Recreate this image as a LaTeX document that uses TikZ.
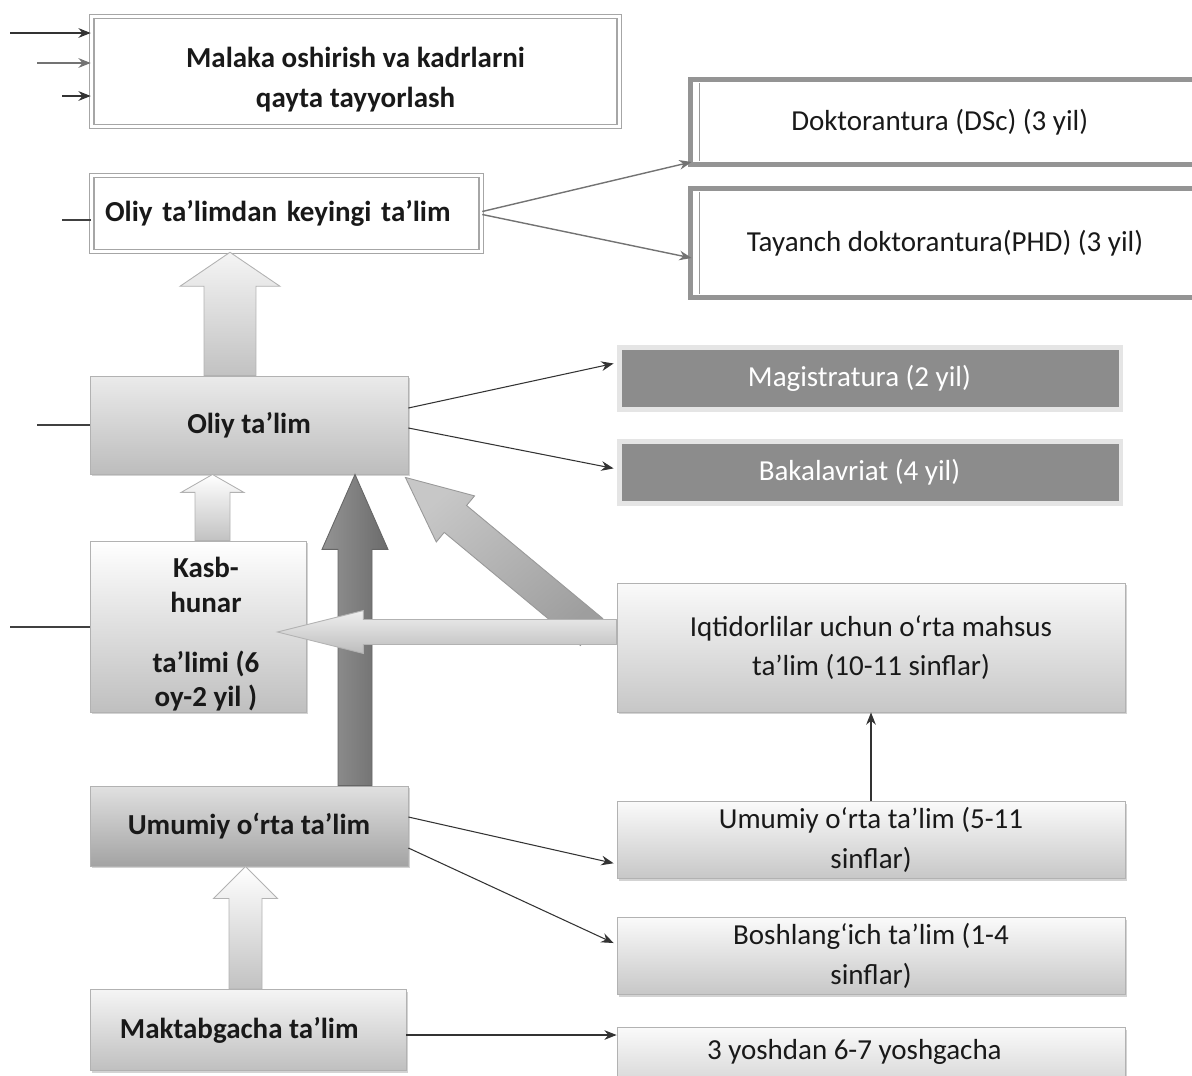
\documentclass[tikz,border=0pt]{standalone}
\usepackage{fontspec}
\setmainfont{Carlito}
\usetikzlibrary{calc,positioning,shadows,arrows.meta}
\newcommand{\topgap}[1]{\rule{0pt}{#1}}
\tikzset{
  blockarrow/.style args={(#1) to (#2) by #3/#4/#5}{
    insert path={
      let \p1=($(#2)!#5!(#1)$) in
      ($(#1)!#3!90:(#2)$) -- ($(\p1)!#3!-90:(#1)$) -- ($(\p1)!#4!-90:(#1)$)
      -- (#2) -- ($(\p1)!#4!90:(#1)$) -- ($(\p1)!#3!90:(#1)$)
      -- ($(#1)!#3!-90:(#2)$) -- cycle
    }
  },
  >={Stealth[length=7pt,width=5.5pt]},
  every node/.style={font=\fontsize{16.5}{22.7}\selectfont,text=black!90},
  bold/.style={font=\bfseries\fontsize{16.5}{22.7}\selectfont},
  link/.style={->,draw=black!80,line width=0.6pt},
  glink/.style={->,draw=black!55,line width=0.8pt},
  stub/.style={draw=black!75,line width=1pt},
  dblbox/.style args={#1,#2}{
  draw=black!35,
  double=white,
  double distance=1.6pt,
  line width=0.9pt,
  minimum width=#1 cm,
  minimum height=#2 cm,
  },
  thickbox/.style args={#1,#2}{
  draw=black!42,
  line width=2.8pt,
  fill=white,
  minimum width=#1 cm,
  minimum height=#2 cm,
  },
  darkbox/.style args={#1,#2}{
  draw=black!10,
  line width=2.8pt,
  fill=black!45,
  text=white,
  minimum width=#1 cm,
  minimum height=#2 cm,
  },
  gbox/.style args={#1,#2}{
  draw=black!30,
  line width=0.5pt,
  top color=black!2,
  bottom color=black!22,
  drop shadow={opacity=0.35,shadow xshift=1.3pt,shadow yshift=-1.3pt},
  align=center,
  minimum width=#1 cm,
  minimum height=#2 cm,
  },
  fatlight/.style={draw=black!30,line width=0.5pt,top color=black!4,bottom color=black!24},
  fatdark/.style={draw=black!60,line width=0.5pt,left color=black!42,right color=black!58},
  fatmid/.style={draw=black!40,line width=0.5pt,top color=black!22,bottom color=black!38},
}

\begin{document}
\begin{tikzpicture}[x=0.02cm,y=-0.02cm]
  \useasboundingbox (0,0) rectangle (1192,1075);

  % upper boxes
  \node [dblbox={10.56,2.2},bold,align=center] (mal) at (355.5,71.5) {\topgap{20.7pt}Malaka oshirish va kadrlarni\\qayta tayyorlash};
  \node [dblbox={7.8,1.52},bold,text width=7.26cm,align=left] (okt) at (286.5,213.5) {Oliy ta’limdan keyingi ta’lim};

  \node [thickbox={10.2,1.7}] (dsc) at (945,122) {Doktorantura (DSc) (3 yil)\hspace*{6pt}};
  \node [thickbox={10.2,2.18}] (phd) at (945,243) {Tayanch doktorantura(PHD) (3 yil)};
  \draw [black!40,line width=0.5pt] ($(dsc.north west)+(12,6)$) -- ($(dsc.south west)+(12,-6)$);
  \draw [black!40,line width=0.5pt] ($(phd.north west)+(12,6)$) -- ($(phd.south west)+(12,-6)$);

  \node [darkbox={10.04,1.23}] (mag) at (870,378.5) {Magistratura (2 yil)\hspace*{12pt}};
  \node [darkbox={10.04,1.23},below=0.55cm of mag] (bak) {Bakalavriat (4 yil)\hspace*{12pt}};

  % left column
  \node [gbox={6.36,1.96},bold,top color=black!8,bottom color=black!26] (oliy) at (249,425) {Oliy ta’lim};
  \node [gbox={4.32,3.42},inner ysep=0pt,font=\bfseries\fontsize{16.5}{19.8}\selectfont,top color=white,bottom color=black!25] (kasb) at (198,626.5) {\topgap{20.7pt}\hspace*{9pt}Kasb-\\\hspace*{9pt}hunar\\[14pt]\hspace*{9pt}ta’limi (6\\\hspace*{9pt}oy-2 yil )};
  \node [gbox={6.36,1.6},bold,top color=black!12,bottom color=black!36] (umu) at (249,826) {Umumiy o‘rta ta’lim};
  \node [gbox={6.32,1.62},bold,top color=black!4,bottom color=black!25] (mak) at (248,1030) {Maktabgacha ta’lim\hspace*{10pt}};

  % right column
  \node [gbox={10.16,2.58}] (iqt) at (871,647.5) {Iqtidorlilar uchun o‘rta mahsus\\ta’lim (10-11 sinflar)};
  \node [gbox={10.16,1.52},below=1.78cm of iqt] (umusf) {Umumiy o‘rta ta’lim (5-11\\sinflar)};
  \node [gbox={10.16,1.54},below=0.76cm of umusf] (bosh) {Boshlang‘ich ta’lim (1-4\\sinflar)};
  \node [gbox={10.16,0},inner ysep=0pt,text height=0.64cm,text depth=1cm,below=0.64cm of bosh] (yosh) {3 yoshdan 6-7 yoshgacha\hspace*{19pt}};

  % block arrows
  \coordinate (up1a) at ($(oliy.north)+(-19,0)$);
  \coordinate (up1b) at (up1a |- okt.south);
  \coordinate (up2a) at ($(kasb.north)+(14.5,0)$);
  \coordinate (up2b) at (up2a |- oliy.south);
  \coordinate (up3a) at ($(umu.north)+(106,0)$);
  \coordinate (up3b) at (up3a |- oliy.south);
  \coordinate (up4a) at ($(mak.north)+(-2.5,0)$);
  \coordinate (up4b) at (up4a |- umu.south);
  \coordinate (diaga) at ($(iqt.west)+(-25,-15.5)$);
  \coordinate (diagb) at ($(oliy.south east)+(-3,3)$);
  \coordinate (hora) at ($(iqt.west)+(0,-15.5)$);
  \coordinate (horb) at ($(hora -| kasb.east)+(-29,0)$);

  \path [fatlight] [blockarrow={(up1a) to (up1b) by 0.52cm/1cm/0.68cm}];
  \path [fatlight,top color=white] [blockarrow={(up2a) to (up2b) by 0.35cm/0.63cm/0.36cm}];
  \path [fatmid,shading angle=40] [blockarrow={(diaga) to (diagb) by 0.35cm/0.6cm/1.3cm}];
  \path [fatdark] [blockarrow={(up3a) to (up3b) by 0.34cm/0.66cm/1.5cm}];
  \path [fatlight,top color=black!6,bottom color=black!26] [blockarrow={(hora) to (horb) by 0.25cm/0.43cm/1.72cm}];
  \path [fatlight,top color=white] [blockarrow={(up4a) to (up4b) by 0.33cm/0.64cm/0.64cm}];

  % inputs on the left
  \coordinate (in1) at (10,33);
  \coordinate (in2) at (37,63);
  \coordinate (in3) at (62,96);
  \draw [link,line width=0.8pt] (in1) -- (in1 -| mal.west);
  \draw [link,draw=black!55,line width=1pt] (in2) -- (in2 -| mal.west);
  \draw [link,line width=0.8pt] (in3) -- (in3 -| mal.west);

  \coordinate (s1) at (62,220);
  \coordinate (s2) at (37,425);
  \coordinate (s3) at (10,627);
  \draw [stub] (s1) -- (s1 -| okt.west);
  \draw [stub] (s2) -- (s2 -| oliy.west);
  \draw [stub] (s3) -- (s3 -| kasb.west);

  % thin connectors
  \draw [glink] ($(okt.east)+(0,-2)$) -- ($(dsc.south west)+(4,-5)$);
  \draw [glink] ($(okt.east)+(0,1)$) -- ($(phd.west)+(4,15)$);
  \draw [link] ($(oliy.east)+(0,-17)$) -- ($(mag.west)+(-3,-15)$);
  \draw [link] ($(oliy.east)+(0,3)$) -- ($(bak.west)+(-3,-4)$);
  \draw [link] ($(umu.east)+(0,-9)$) -- ($(umusf.west)+(-3,23)$);
  \draw [link] ($(umu.east)+(0,22)$) -- ($(bosh.west)+(-3,-13)$);
  \draw [link] ($(mak.east)+(0,5)$) coordinate (m1) -- (m1 -| yosh.west);
  \draw [link] (umusf.north) -- (iqt.south);
\end{tikzpicture}
\end{document}
